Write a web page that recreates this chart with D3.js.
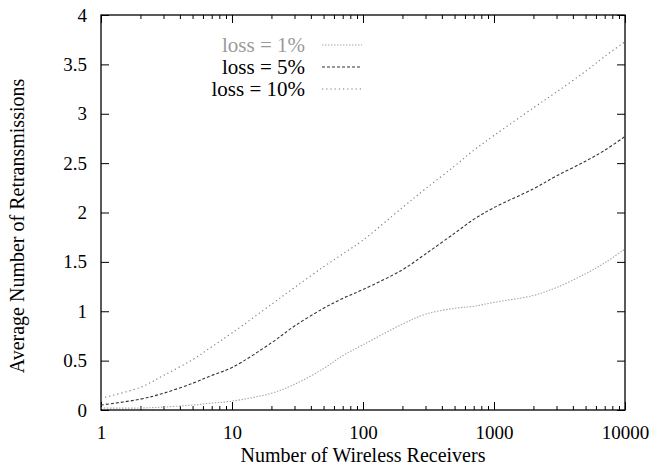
<!DOCTYPE html>
<html>
<head>
<meta charset="utf-8">
<script src="https://cdn.jsdelivr.net/npm/d3@7"></script>
<style>
  body { margin: 0; background: #fff; }
</style>
</head>
<body>
<svg id="chart"></svg>
<script>
// receivers on the x axis (log scale)
const receivers = [1, 2, 3, 5, 7, 10, 20, 30, 50, 70, 100, 200, 300, 500, 700, 1000, 2000, 3000, 5000, 7000, 10000];
const loss1  = [0.02, 0.02, 0.03, 0.05, 0.07, 0.09, 0.17, 0.26, 0.42, 0.55, 0.66, 0.87, 0.97, 1.03, 1.05, 1.09, 1.16, 1.24, 1.38, 1.49, 1.63];
const loss5  = [0.05, 0.11, 0.17, 0.27, 0.35, 0.43, 0.68, 0.85, 1.03, 1.13, 1.22, 1.42, 1.58, 1.79, 1.93, 2.05, 2.24, 2.37, 2.52, 2.63, 2.77];
const loss10 = [0.12, 0.23, 0.35, 0.51, 0.64, 0.78, 1.07, 1.24, 1.45, 1.58, 1.72, 2.05, 2.24, 2.47, 2.63, 2.78, 3.06, 3.22, 3.43, 3.58, 3.73];

const seriesNames = ["loss = 1%", "loss = 5%", "loss = 10%"];
const xTicks = [1, 10, 100, 1000, 10000];
const yTicks = [0, 0.5, 1, 1.5, 2, 2.5, 3, 3.5, 4];

const font = "'Liberation Serif', 'DejaVu Serif', serif";
const W = 650, H = 468;
const margin = { left: 101, top: 15, right: 25, bottom: 58 };
const xHigh = W - margin.left - margin.right,
    yHigh = H - margin.top - margin.bottom;

const svg = d3.select("#chart")
    .attr("width", W)
    .attr("height", H)
    .attr("font-family", font);

const x = d3.scaleLog().domain([1, 10000]).range([margin.left, margin.left + xHigh]);
const y = d3.scaleLinear().domain([0, 4]).range([margin.top + yHigh, margin.top]);

// minor ticks for the log axis
const minor = [];
for (let d = 1; d < 10000; d *= 10)
    for (let k = 2; k < 10; k++) minor.push(d * k);

const g = svg.append("g");

// bottom axis + mirrored top
g.append("g")
    .attr("transform", `translate(0,${y(0)})`)
    .call(d3.axisBottom(x).tickValues(minor).tickSize(-4).tickFormat(""))
    .call(a => a.select(".domain").remove());
g.append("g")
    .attr("transform", `translate(0,${y(0)})`)
    .call(d3.axisBottom(x).tickValues(xTicks).tickSize(-8).tickPadding(16).tickFormat(d3.format("d")))
    .call(a => a.select(".domain").remove());
g.append("g")
    .attr("transform", `translate(0,${y(4)})`)
    .call(d3.axisTop(x).tickValues(minor).tickSize(-4).tickFormat(""))
    .call(a => a.select(".domain").remove());
g.append("g")
    .attr("transform", `translate(0,${y(4)})`)
    .call(d3.axisTop(x).tickValues(xTicks).tickSize(-8).tickFormat(""))
    .call(a => a.select(".domain").remove());

// left axis + mirrored right
g.append("g")
    .attr("transform", `translate(${x(1)},0)`)
    .call(d3.axisLeft(y).tickValues(yTicks).tickSize(-8).tickPadding(14).tickFormat(d3.format("")))
    .call(a => a.select(".domain").remove());
g.append("g")
    .attr("transform", `translate(${x(10000)},0)`)
    .call(d3.axisRight(y).tickValues(yTicks).tickSize(-8).tickFormat(""))
    .call(a => a.select(".domain").remove());

g.selectAll("g").attr("font-family", font);
g.selectAll(".tick line").attr("stroke", "#000").attr("stroke-width", 1);
g.selectAll(".tick text").attr("fill", "#000").attr("font-size", 19);

// frame
svg.append("rect")
    .attr("x", x(1)).attr("y", y(4))
    .attr("width", x(10000) - x(1)).attr("height", y(0) - y(4))
    .attr("fill", "none").attr("stroke", "#000").attr("stroke-width", 1.3);

const styles = [
    { color: "#a8a8a8", dash: "1.5,1.5", text: "#9a9a9a" },
    { color: "#333", dash: "3,2", text: "#000" },
    { color: "#777", dash: "1.2,3", text: "#000" }
];
const series = [loss1, loss5, loss10];

const line = d3.line()
    .x(d => x(d[0]))
    .y(d => y(d[1]))
    .curve(d3.curveCatmullRom.alpha(0.5));

series.forEach((vals, i) => {
    svg.append("path")
        .datum(receivers.map((r, j) => [r, vals[j]]))
        .attr("d", line)
        .attr("fill", "none")
        .attr("stroke", styles[i].color)
        .attr("stroke-width", 1.1)
        .attr("stroke-dasharray", styles[i].dash);
});

// legend
const legend = svg.append("g").attr("transform", "translate(305,45)");
seriesNames.forEach((name, i) => {
    const row = legend.append("g").attr("transform", `translate(0,${i * 22})`);
    row.append("text")
        .attr("dy", "0.35em")
        .attr("text-anchor", "end")
        .attr("fill", styles[i].text)
        .attr("font-size", 21)
        .text(name);
    row.append("line")
        .attr("x1", 17).attr("x2", 57)
        .attr("stroke", styles[i].color)
        .attr("stroke-width", 1.1)
        .attr("stroke-dasharray", styles[i].dash);
});

// axis titles
svg.append("text")
    .attr("x", margin.left + xHigh / 2)
    .attr("y", 462)
    .attr("text-anchor", "middle")
    .attr("font-size", 20)
    .text("Number of Wireless Receivers");

svg.append("text")
    .attr("transform", "translate(24,226) rotate(-90)")
    .attr("text-anchor", "middle")
    .attr("font-size", 20)
    .text("Average Number of Retransmissions");
</script>
</body>
</html>
